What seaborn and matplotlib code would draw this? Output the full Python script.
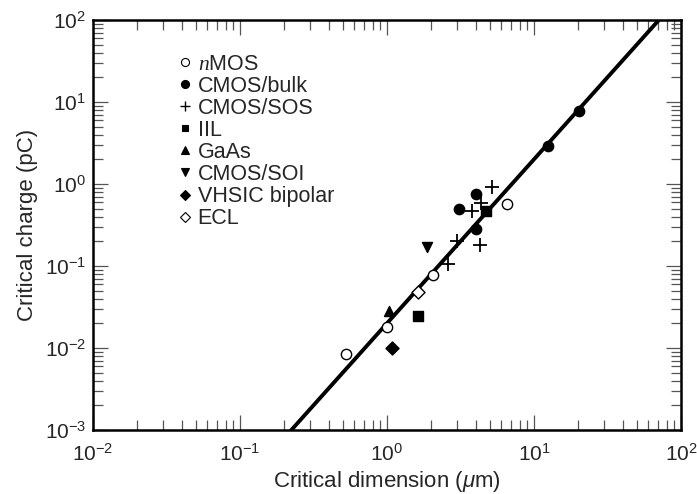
import numpy as np
import pandas as pd
import matplotlib
matplotlib.use("Agg")
import matplotlib.pyplot as plt
from matplotlib.lines import Line2D
import seaborn as sns

# ---- data ----
nmos_x = [0.53, 1.0, 2.05, 6.6]
nmos_q = [0.0085, 0.018, 0.078, 0.565]
bulk_x = [3.07, 4.03, 4.03, 12.4, 20.2]
bulk_q = [0.50, 0.755, 0.28, 2.9, 7.8]
sos_x = [5.16, 4.34, 3.77, 2.98, 4.29, 2.61]
sos_q = [0.91, 0.58, 0.465, 0.204, 0.179, 0.105]
iil_x = [4.71, 1.63]
iil_q = [0.465, 0.0245]
gaas_x = [1.03]
gaas_q = [0.0282]
soi_x = [1.86]
soi_q = [0.169]
vhsic_x = [1.08]
vhsic_q = [0.0099]
ecl_x = [1.63]
ecl_q = [0.0487]

line_x = [0.1, 100.0]
line_q = [0.0002, 200.0]

labels = ["$n$MOS", "CMOS/bulk", "CMOS/SOS", "IIL", "GaAs", "CMOS/SOI",
          "VHSIC bipolar", "ECL"]

sns.set_style("ticks")
plt.rcParams["font.family"] = ["Liberation Sans", "DejaVu Sans"]
plt.rcParams["mathtext.fontset"] = "custom"
plt.rcParams["mathtext.rm"] = "Liberation Sans"
plt.rcParams["mathtext.it"] = "Liberation Serif:italic"
plt.rcParams["mathtext.sf"] = "Liberation Sans:italic"

fig = plt.figure(figsize=(6.97, 4.94), dpi=100)
ax = fig.add_axes([93 / 697, 1 - 430 / 494, 588 / 697, 410 / 494])

# fitted line
sns.lineplot(x=line_x, y=line_q, ax=ax, color="black", lw=2.8, zorder=2)

groups = [
    (nmos_x, nmos_q, "o", "white", 55),
    (bulk_x, bulk_q, "o", "black", 55),
    (sos_x, sos_q, "+", "black", 90),
    (iil_x, iil_q, "s", "black", 44),
    (gaas_x, gaas_q, "^", "black", 52),
    (soi_x, soi_q, "v", "black", 52),
    (vhsic_x, vhsic_q, "D", "black", 44),
    (ecl_x, ecl_q, "D", "white", 44),
]
handles = []
for (xs, qs, m, fc, s), lab in zip(groups, labels):
    df = pd.DataFrame({"x": xs, "q": qs})
    if m == "+":
        sns.scatterplot(data=df, x="x", y="q", ax=ax, marker="+", color="black",
                        s=s, linewidth=1.3, zorder=3)
        handles.append(Line2D([], [], ls="", marker="+", color="black",
                              markersize=7.5, markeredgewidth=1.0, label=lab))
    else:
        sns.scatterplot(data=df, x="x", y="q", ax=ax, marker=m, color=fc,
                        edgecolor="black", s=s, linewidth=1.0, zorder=3)
        handles.append(Line2D([], [], ls="", marker=m, markerfacecolor=fc,
                              markeredgecolor="black", markeredgewidth=0.8,
                              markersize=5.8 if m in ("o", "^", "v") else 5.0,
                              label=lab))

ax.set_xscale("log")
ax.set_yscale("log")
ax.set_xlim(1e-2, 1e2)
ax.set_ylim(1e-3, 1e2)

ax.set_xlabel("Critical dimension ($\\mathsf{\\mu}$m)", fontsize=16, labelpad=3)
ax.set_ylabel("Critical charge (pC)", fontsize=16, labelpad=5)

ax.tick_params(which="both", direction="in", top=True, right=True,
               color="#555555", width=0.9)
ax.tick_params(which="major", length=10.5, labelsize=15)
ax.tick_params(axis="x", which="major", pad=9)
ax.tick_params(axis="y", which="major", pad=5)
ax.tick_params(which="minor", length=7)
for sp in ax.spines.values():
    sp.set_linewidth(1.8)
    sp.set_color("black")

leg = ax.legend(handles=handles, loc="upper left",
                bbox_to_anchor=(0.147, 0.918), frameon=False, fontsize=15.5,
                handlelength=0.55, handletextpad=0.3, labelspacing=0.05,
                borderpad=0, borderaxespad=0)

fig.savefig("out.png", dpi=100)
